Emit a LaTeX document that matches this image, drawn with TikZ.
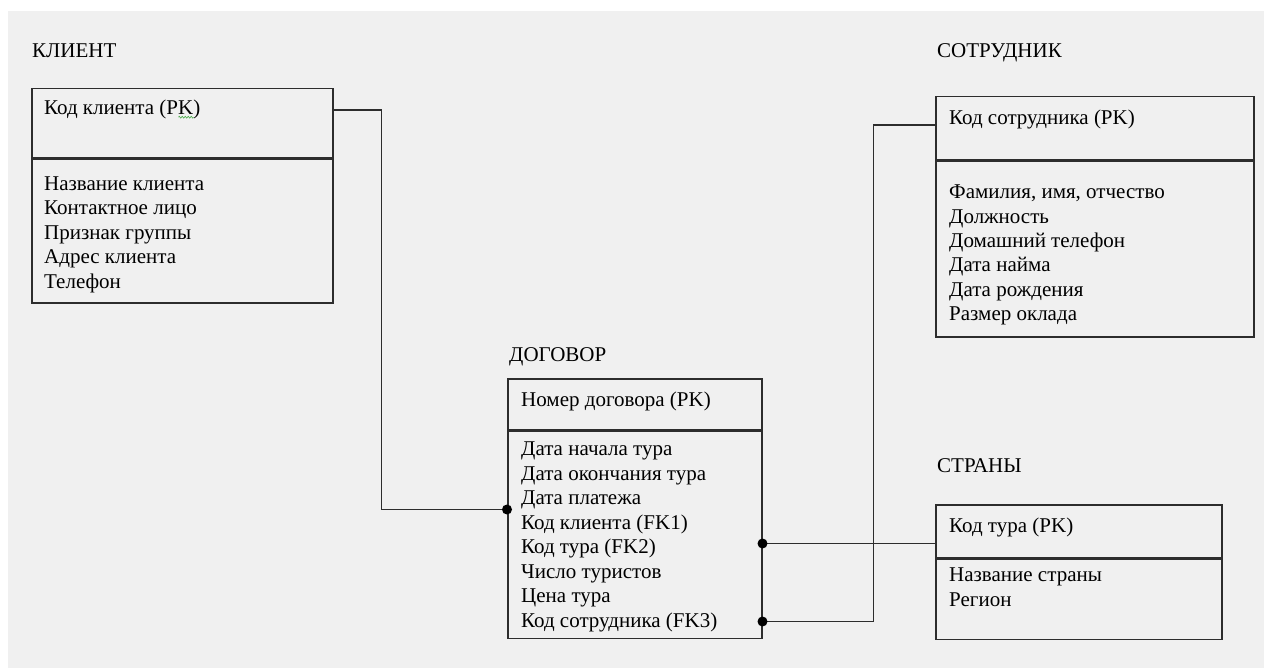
\documentclass[tikz,border=0pt]{standalone}
\usepackage{fontspec}
\setmainfont{LiberationSerif}[Extension=.ttf, UprightFont=*-Regular, BoldFont=*-Bold]
\usepackage{xcolor}
\usepackage{tikz}
\usetikzlibrary{positioning, calc, decorations.pathmorphing}
\definecolor{pagegray}{RGB}{240, 240, 240}
\definecolor{linegray}{RGB}{45, 45, 45}
\definecolor{spellgreen}{RGB}{70, 170, 70}

\begin{document}
\begin{tikzpicture}[x=1pt, y=-1pt,
    every node/.style={font=\rmfamily\fontsize{21}{24.4}\selectfont},
    entbox/.style={draw=linegray, line width=1.5pt, rectangle, anchor=north west, inner sep=0pt},
    attrs/.style={anchor=north west, inner sep=0pt, align=left, execute at begin node=\strut},
    enttitle/.style={anchor=base west, inner sep=0pt},
    rel/.style={draw=linegray, line width=1.6pt},
    fkdot/.style={fill=black}]

    % page
    \useasboundingbox (0,0) rectangle (1264,668);
    \fill[pagegray] (8,11) rectangle (1264,668);

    % КЛИЕНТ
    \node[enttitle] (klienttitle) at (32,58) {КЛИЕНТ};
    \node[entbox, minimum width=301, minimum height=69] (klientkey) at (31,88) {};
    \node[entbox, minimum width=301, minimum height=144] (klientbody) at (klientkey.south west) {};
    \node[attrs, below right=9.4pt and 13pt of klientkey.north west] (klientpk) {Код клиента (PK)};
    \node[attrs, below right=18pt and 13pt of klientbody.north west] (klientattr) {
        Название клиента\\
        Контактное лицо\\
        Признак группы\\
        Адрес клиента\\
        Телефон
    };
    \draw[spellgreen, line width=0.6pt, decorate, decoration={zigzag, amplitude=0.9pt, segment length=3pt}]
        ([xshift=-22pt, yshift=5pt]klientpk.south east) -- ([xshift=-7pt, yshift=5pt]klientpk.south east);

    % ДОГОВОР
    \node[enttitle] (dogovortitle) at (509,361) {ДОГОВОР};
    \node[entbox, minimum width=254, minimum height=51] (dogovorkey) at (507,378) {};
    \node[entbox, minimum width=254, minimum height=207] (dogovorbody) at (dogovorkey.south west) {};
    \node[attrs, below right=11pt and 14pt of dogovorkey.north west] (dogovorpk) {Номер договора (PK)};
    \node[attrs, font=\fontsize{21}{24.5}\selectfont, below right=11.2pt and 14pt of dogovorbody.north west] (dogovorattr) {
        Дата начала тура\\
        Дата окончания тура\\
        Дата платежа\\
        Код клиента (FK1)\\
        Код тура (FK2)\\
        Число туристов\\
        Цена тура\\
        Код сотрудника (FK3)
    };

    % СОТРУДНИК
    \node[enttitle] (sotrtitle) at (937,58) {СОТРУДНИК};
    \node[entbox, minimum width=318, minimum height=63] (sotrkey) at (935,96) {};
    \node[entbox, minimum width=318, minimum height=176] (sotrbody) at (sotrkey.south west) {};
    \node[attrs, below right=11pt and 14pt of sotrkey.north west] (sotrpk) {Код сотрудника (PK)};
    \node[attrs, below right=24.2pt and 14pt of sotrbody.north west] (sotrattr) {
        Фамилия, имя, отчество\\
        Должность\\
        Домашний телефон\\
        Дата найма\\
        Дата рождения\\
        Размер оклада
    };

    % СТРАНЫ
    \node[enttitle] (stranytitle) at (937,472) {СТРАНЫ};
    \node[entbox, minimum width=286, minimum height=53] (stranykey) at (935,504) {};
    \node[entbox, minimum width=286, minimum height=80] (stranybody) at (stranykey.south west) {};
    \node[attrs, below right=11.4pt and 14pt of stranykey.north west] (stranypk) {Код тура (PK)};
    \node[attrs, font=\fontsize{21}{25}\selectfont, below right=9.2pt and 14pt of stranybody.north west] (stranyattr) {
        Название страны\\
        Регион
    };

    % связи
    \coordinate (fkclient) at ([yshift=-79pt]dogovorbody.north west);
    \coordinate (fktour) at ([yshift=-113pt]dogovorbody.north east);
    \coordinate (fkstaff) at ([yshift=-191pt]dogovorbody.north east);

    \draw[rel] (klientpk -| klientkey.east) -- ++(48,0) |- (fkclient);
    \draw[rel] (fktour) -- (fktour -| stranykey.west);
    \draw[rel] (fkstaff) -- ++(111,0) |- ([yshift=-29pt]sotrkey.north west);

    \fill[fkdot] (fkclient) circle (5);
    \fill[fkdot] (fktour) circle (5);
    \fill[fkdot] (fkstaff) circle (5);
\end{tikzpicture}
\end{document}
